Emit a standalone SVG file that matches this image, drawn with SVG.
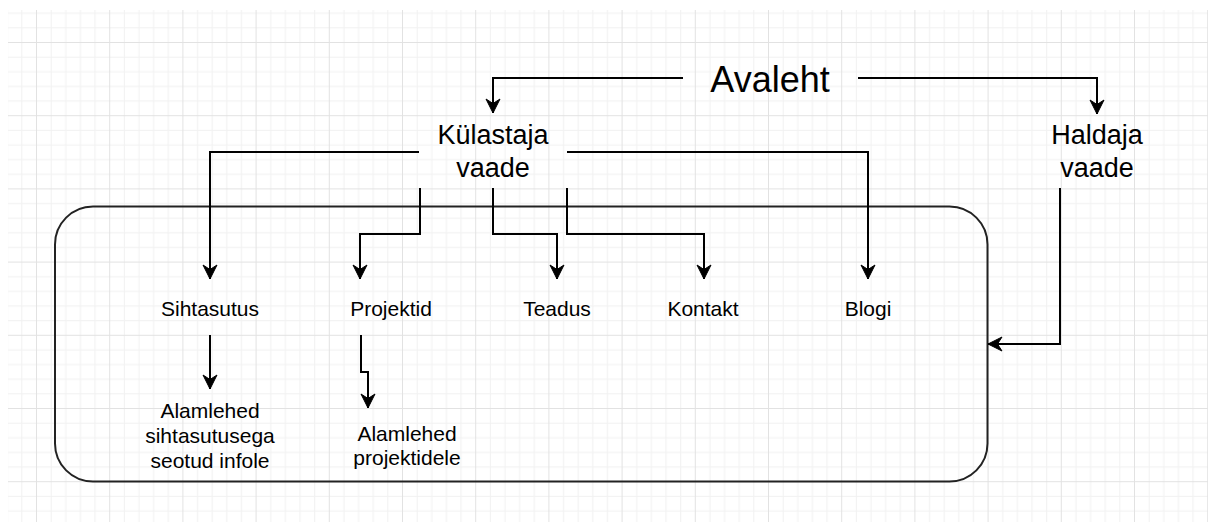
<svg xmlns="http://www.w3.org/2000/svg" width="1208" height="522" viewBox="0 0 1208 522">
  <defs>
    <pattern id="grid" x="36" y="42" width="73.2" height="73.2" patternUnits="userSpaceOnUse">
      <g fill="#f1f1f1">
        <rect x="14.64" y="0" width="1" height="73.2"/>
        <rect x="29.28" y="0" width="1" height="73.2"/>
        <rect x="43.92" y="0" width="1" height="73.2"/>
        <rect x="58.56" y="0" width="1" height="73.2"/>
        <rect x="0" y="14.64" width="73.2" height="1"/>
        <rect x="0" y="29.28" width="73.2" height="1"/>
        <rect x="0" y="43.92" width="73.2" height="1"/>
        <rect x="0" y="58.56" width="73.2" height="1"/>
      </g>
      <g fill="#e2e2e2">
        <rect x="0" y="0" width="1" height="73.2"/>
        <rect x="0" y="0" width="73.2" height="1"/>
      </g>
    </pattern>
    <marker id="arrow" markerUnits="userSpaceOnUse" markerWidth="20" markerHeight="20" viewBox="-16 -10 20 20" refX="0" refY="0" orient="auto" overflow="visible">
      <path d="M0,0 L-14,-7 L-9.5,0 L-14,7 Z" fill="#000" stroke="#000" stroke-width="1" stroke-linejoin="miter"/>
    </marker>
    <style>
      .lbl { font-family: "Liberation Sans", Arial, sans-serif; fill: #000; text-anchor: middle; }
      .big { font-size: 36px; }
      .mid { font-size: 27px; }
      .sm { font-size: 21px; }
      .conn { fill: none; stroke: #000; stroke-width: 2; marker-end: url(#arrow); }
    </style>
  </defs>

  <rect x="0" y="0" width="1208" height="522" fill="#fff"/>
  <rect x="8" y="10" width="1200" height="512" fill="url(#grid)"/>

  <g id="container">
    <rect x="55" y="206.5" width="932.5" height="275" rx="38" ry="38" fill="none" stroke="#222" stroke-width="2"/>
  </g>

  <g id="connectors">
    <path class="conn" d="M683,78 H493 V113"/>
    <path class="conn" d="M858,78 H1097 V114"/>
    <path class="conn" d="M419,152 H210 V279"/>
    <path class="conn" d="M567,152 H868 V279"/>
    <path class="conn" d="M420,188 V234 H360 V279"/>
    <path class="conn" d="M493,188 V234 H557 V279"/>
    <path class="conn" d="M567,188 V234 H704 V279"/>
    <path class="conn" d="M1060,188 V344 H988"/>
    <path class="conn" d="M210,335 V389"/>
    <path class="conn" d="M361,335 V372 H368 V408"/>
  </g>

  <g id="avaleht">
    <text class="lbl big" x="770" y="92">Avaleht</text>
  </g>
  <g id="kulastaja">
    <text class="lbl mid" x="493" y="144">Külastaja</text>
    <text class="lbl mid" x="493" y="177">vaade</text>
  </g>
  <g id="haldaja">
    <text class="lbl mid" x="1097" y="144">Haldaja</text>
    <text class="lbl mid" x="1097" y="177">vaade</text>
  </g>
  <g id="sihtasutus">
    <text class="lbl sm" x="210" y="316">Sihtasutus</text>
  </g>
  <g id="projektid">
    <text class="lbl sm" x="391" y="316">Projektid</text>
  </g>
  <g id="teadus">
    <text class="lbl sm" x="557" y="316">Teadus</text>
  </g>
  <g id="kontakt">
    <text class="lbl sm" x="703" y="316">Kontakt</text>
  </g>
  <g id="blogi">
    <text class="lbl sm" x="868" y="316">Blogi</text>
  </g>
  <g id="alamlehed-sihtasutus">
    <text class="lbl sm" x="210" y="418">Alamlehed</text>
    <text class="lbl sm" x="210" y="443">sihtasutusega</text>
    <text class="lbl sm" x="210" y="468">seotud infole</text>
  </g>
  <g id="alamlehed-projektid">
    <text class="lbl sm" x="407" y="441">Alamlehed</text>
    <text class="lbl sm" x="407" y="465">projektidele</text>
  </g>
</svg>
